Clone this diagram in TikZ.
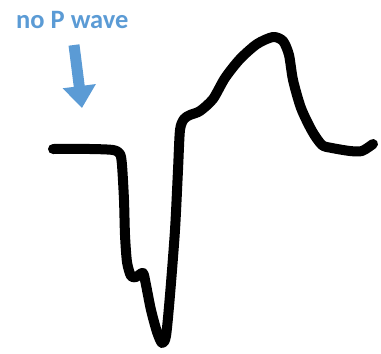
\documentclass[tikz,border=0pt]{standalone}
\usepackage{fontspec}
\setmainfont{Carlito}
\usetikzlibrary{arrows.meta}
\definecolor{pblue}{HTML}{5B9BD5}
\tikzset{
  wave/.style={line width=10pt, line cap=round, line join=round, black},
  pointer/.style={pblue, line width=11pt, -{Triangle[length=22pt,width=32pt]}},
  lbl/.style={pblue, font=\bfseries\fontsize{26.5}{28}\selectfont, inner sep=0pt, anchor=base west}
}
\begin{document}
\begin{tikzpicture}[x=1pt,y=-1pt]
\useasboundingbox (0,0) rectangle (381,354);
\node[lbl] (label) at (16,28) {no P wave};
\coordinate (atop) at (74,45);
\coordinate (atip) at (82,108);
\draw[pointer] (atop) -- (atip);
\draw[wave] plot[smooth, tension=0.45] coordinates {
 (53,149) (90,149) (113,150) (120,154) (122,165) (124,200) (125,235) (127,262) (131,276)
 (136,277) (143,273) (146,285) (151,310) (157,332) (162,343) (166,336) (170,295)
 (175,230) (178,170) (180,130) (184,119) (190,115) (200,111) (213,99) (225,78)
 (240,59) (257,44) (273,37) (283,41) (289,55) (293,80) (301,108) (312,131) (322,145)
 (332,148) (350,151) (362,151) (373,144)
};
\end{tikzpicture}
\end{document}
